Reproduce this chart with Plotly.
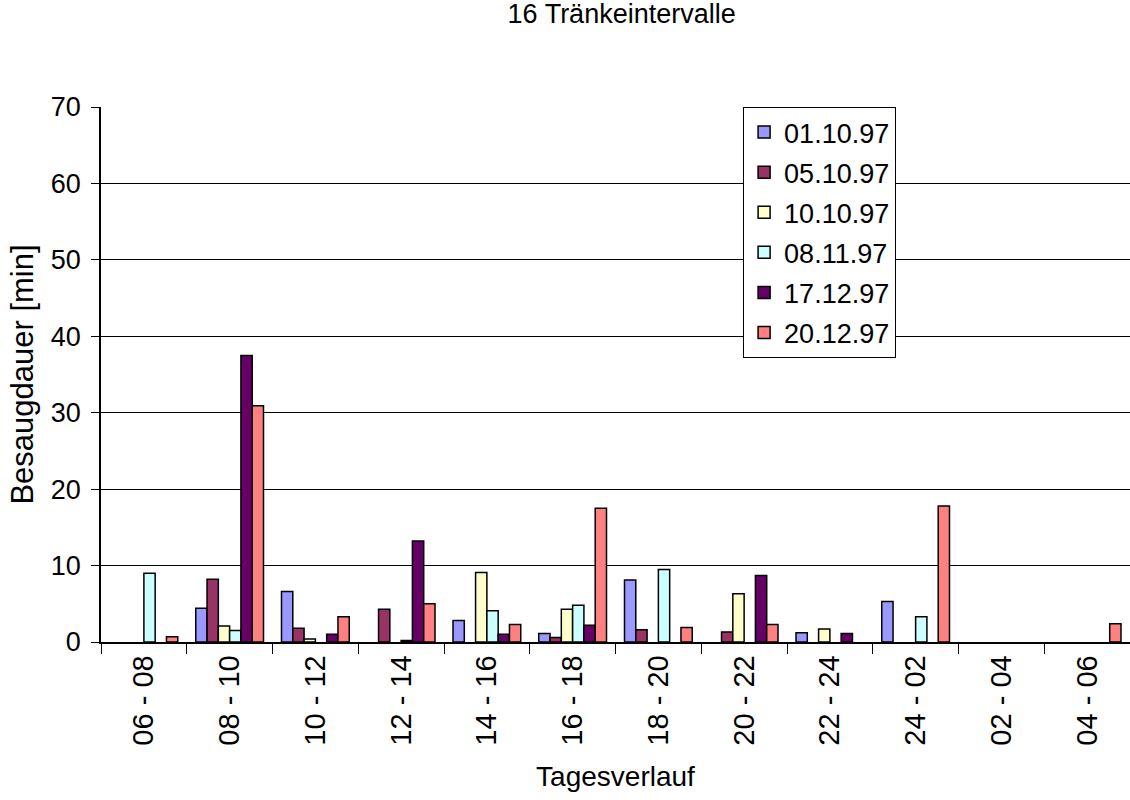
import plotly.graph_objects as go

categories = ["06 - 08", "08 - 10", "10 - 12", "12 - 14", "14 - 16", "16 - 18",
              "18 - 20", "20 - 22", "22 - 24", "24 - 02", "02 - 04", "04 - 06"]
series_names = ["01.10.97", "05.10.97", "10.10.97", "08.11.97", "17.12.97", "20.12.97"]
s_01_10_97 = [0, 4.4, 6.6, 0, 2.8, 1.1, 8.1, 0, 1.2, 5.3, 0, 0]
s_05_10_97 = [0, 8.2, 1.8, 4.3, 0, 0.6, 1.6, 1.3, 0, 0, 0, 0]
s_10_10_97 = [0, 2.1, 0.4, 0, 9.1, 4.3, 0, 6.3, 1.7, 0, 0, 0]
s_08_11_97 = [9.0, 1.5, 0, 0.2, 4.1, 4.8, 9.5, 0, 0, 3.3, 0, 0]
s_17_12_97 = [0, 37.5, 1.0, 13.2, 1.0, 2.2, 0, 8.7, 1.1, 0, 0, 0]
s_20_12_97 = [0.7, 30.9, 3.3, 5.0, 2.3, 17.5, 1.9, 2.3, 0, 17.8, 0, 2.4]
series_values = [s_01_10_97, s_05_10_97, s_10_10_97, s_08_11_97, s_17_12_97, s_20_12_97]
colors = ["#9999FF", "#993366", "#FFFFCC", "#CCFFFF", "#660066", "#FF8080"]

FONT = "Liberation Sans, Arial, sans-serif"

fig = go.Figure()
for i, (name, vals, col) in enumerate(zip(series_names, series_values, colors)):
    fig.add_trace(go.Bar(
        x=categories, y=[v if v != 0 else None for v in vals], name=name,
        marker=dict(color=col, line=dict(color="black", width=1.5)),
        legendgroup=f"g{i}",
    ))

fig.update_layout(
    width=1130, height=800,
    margin=dict(l=101, r=0, t=107, b=158),
    paper_bgcolor="white", plot_bgcolor="white",
    barmode="group", bargap=0.21, bargroupgap=0,
    font=dict(family=FONT, color="black", size=27),
    title=dict(text="16 Tränkeintervalle", x=0.506, xref="paper", xanchor="center",
               y=0.995, yanchor="top",
               font=dict(size=27, family=FONT, color="black")),
    showlegend=True,
    legend=dict(x=0.624, xanchor="left", y=1.0, yanchor="top",
                bgcolor="white", bordercolor="black", borderwidth=1,
                font=dict(size=27, family=FONT, color="black"),
                tracegroupgap=2, traceorder="grouped", itemwidth=30),
)
fig.update_xaxes(
    type="category", tickangle=-90,
    showline=True, linecolor="black", linewidth=1.5,
    ticks="outside", ticklen=10, tickcolor="black", tickson="boundaries",
    showgrid=False,
    tickfont=dict(size=29, family=FONT, color="black"),
    title=dict(text="Tagesverlauf", font=dict(size=28, family=FONT, color="black"), standoff=22),
)
fig.update_yaxes(
    range=[0, 70], dtick=10, tick0=0,
    showline=True, linecolor="black", linewidth=1.5,
    ticks="outside", ticklen=8, tickcolor="black", ticklabelstandoff=5,
    showgrid=True, gridcolor="black", gridwidth=1,
    zeroline=False,
    tickfont=dict(size=27, family=FONT, color="black"),
    title=dict(text="Besaugdauer [min]", font=dict(size=31, family=FONT, color="black"), standoff=8),
)

fig.write_html("out.html")
